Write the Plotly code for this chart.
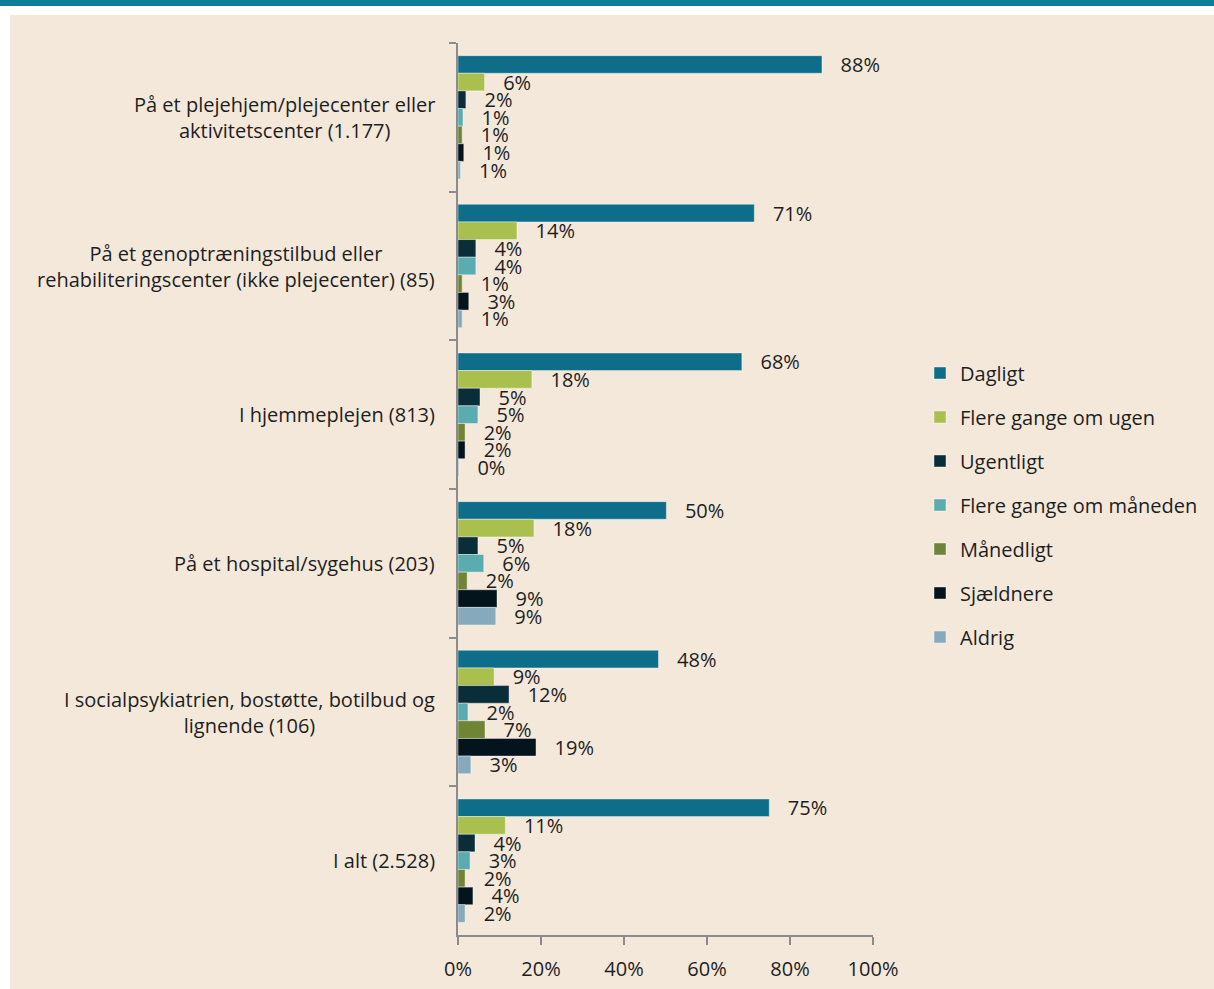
import plotly.graph_objects as go

categories = [
    "På et plejehjem/plejecenter eller<br>aktivitetscenter (1.177)",
    "På et genoptræningstilbud eller<br>rehabiliteringscenter (ikke plejecenter) (85)",
    "I hjemmeplejen (813)",
    "På et hospital/sygehus (203)",
    "I socialpsykiatrien, bostøtte, botilbud og<br>lignende (106)",
    "I alt (2.528)",
]
cat_keys = ["c1", "c2", "c3", "c4", "c5", "c6"]

series_names = [
    "Dagligt",
    "Flere gange om ugen",
    "Ugentligt",
    "Flere gange om måneden",
    "Månedligt",
    "Sjældnere",
    "Aldrig",
]

dagligt = [87.7, 71.4, 68.4, 50.2, 48.3, 75.0]
flere_ugen = [6.4, 14.2, 17.8, 18.3, 8.7, 11.4]
ugentligt = [1.9, 4.3, 5.3, 4.8, 12.3, 4.1]
flere_maaned = [1.2, 4.3, 4.8, 6.2, 2.4, 2.9]
maanedligt = [1.0, 1.0, 1.7, 2.2, 6.5, 1.7]
sjaeldnere = [1.4, 2.6, 1.7, 9.4, 18.8, 3.6]
aldrig = [0.6, 1.0, 0.2, 9.1, 3.1, 1.7]

series_values = [dagligt, flere_ugen, ugentligt, flere_maaned, maanedligt, sjaeldnere, aldrig]
colors = ["#0e6e8a", "#a9c04f", "#0a2d3a", "#5aacb0", "#6f8434", "#04141c", "#86a9bb"]

x_ticks = [0, 20, 40, 60, 80, 100]
x_tick_labels = ["0%", "20%", "40%", "60%", "80%", "100%"]

FONT = "Open Sans"
TXT = "#1e1e1e"

fig = go.Figure()
for name, vals, col in zip(series_names, series_values, colors):
    fig.add_trace(go.Bar(
        y=cat_keys, x=vals, name=name, orientation="h",
        marker=dict(color=col, line=dict(color="rgba(255,255,255,0.5)", width=0.8)),
        texttemplate="\u00a0\u00a0\u00a0%{x:.0f}%", textposition="outside",
        textfont=dict(family=FONT, size=20, color=TXT),
        constraintext="none", cliponaxis=False,
        legendgroup=name, hoverinfo="skip",
    ))

for key, label in zip(cat_keys, categories):
    fig.add_annotation(
        x=0, xref="paper", y=key, yref="y", xanchor="right", yanchor="middle",
        xshift=-21, text=label, align="center", showarrow=False,
        font=dict(family=FONT, size=20, color=TXT),
    )

W, H = 1214, 989
L, R, T, B = 458, 874, 43, 935

def px(x):
    return (x - L) / (R - L)

def py(y):
    return (B - y) / (B - T)

fig.add_shape(type="rect", xref="paper", yref="paper", x0=px(9), x1=px(1230), y0=py(1000), y1=py(15),
              fillcolor="#f4e8db", line=dict(width=0), layer="below")
fig.add_shape(type="rect", xref="paper", yref="paper", x0=px(-20), x1=px(1230), y0=py(6), y1=py(-10),
              fillcolor="#0f7e9b", line=dict(width=0), layer="below")

fig.update_layout(
    width=W, height=H,
    margin=dict(l=L, r=W - R, t=T, b=H - B),
    paper_bgcolor="white", plot_bgcolor="rgba(0,0,0,0)",
    barmode="group", bargap=0.17, bargroupgap=0,
    font=dict(family=FONT, size=20, color=TXT),
    showlegend=True,
    legend=dict(
        x=px(920), xanchor="left", y=py(505), yanchor="middle",
        traceorder="grouped", tracegroupgap=15,
        font=dict(family=FONT, size=20, color=TXT),
        bgcolor="rgba(0,0,0,0)",
    ),
    xaxis=dict(
        range=[0, 100], tickvals=x_ticks, ticktext=x_tick_labels,
        showgrid=False, zeroline=False, showline=True, linecolor="#8c8c8c", linewidth=1.5,
        ticks="outside", ticklen=8, tickcolor="#8c8c8c", tickwidth=1.5,
        ticklabelstandoff=7, automargin=False,
        tickfont=dict(family=FONT, size=20, color=TXT),
    ),
    yaxis=dict(
        type="category", categoryorder="array", categoryarray=cat_keys,
        autorange="reversed", showticklabels=False, showgrid=False, zeroline=False,
        showline=True, linecolor="#8c8c8c", linewidth=1.5, automargin=False,
        ticks="outside", ticklen=7, tickcolor="#8c8c8c", tickwidth=1.5, tickson="boundaries",
    ),
)

fig.write_html("out.html", config={"displayModeBar": False},
               post_script="document.body.style.margin='0';")
